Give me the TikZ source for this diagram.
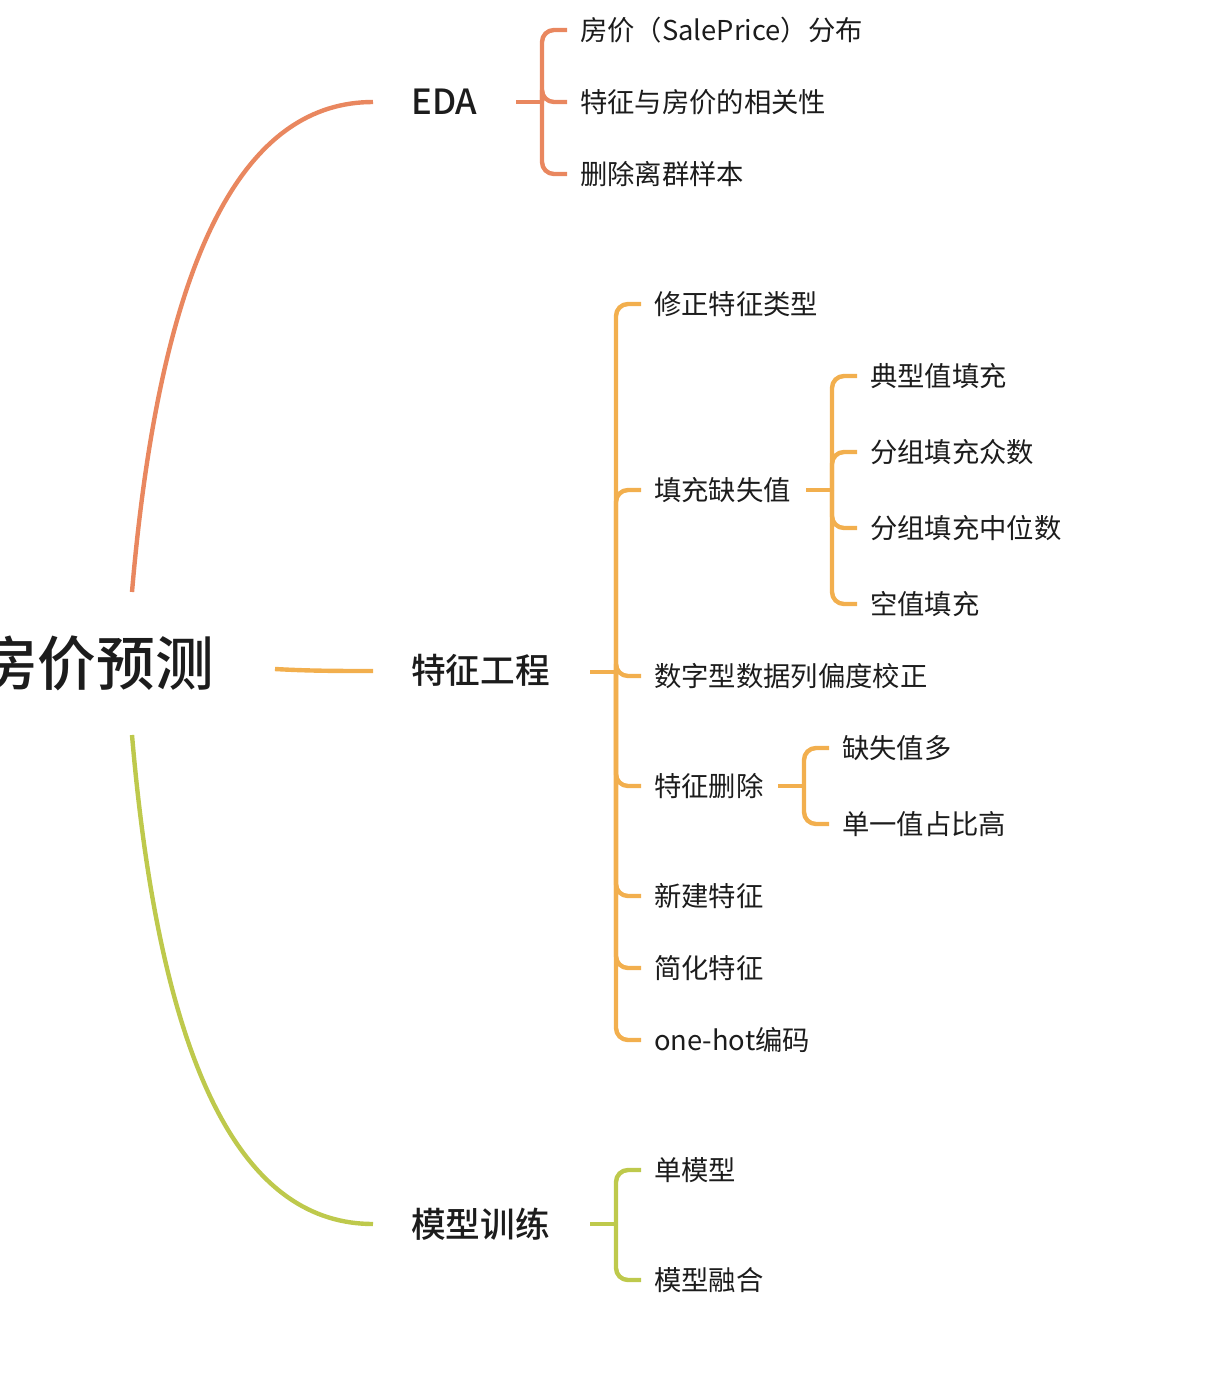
\documentclass[tikz,border=0pt]{standalone}
\usepackage{fontspec}
\setmainfont{Noto Sans CJK SC}
\newfontfamily\medfont{Noto Sans CJK SC}[UprightFont={* Medium}]
\definecolor{cEDA}{HTML}{E9875F}
\definecolor{cFE}{HTML}{F2AF4E}
\definecolor{cMT}{HTML}{BEC94C}
\definecolor{txt}{HTML}{1C1C1C}
\begin{document}
\begin{tikzpicture}[x=0.75pt,y=-0.75pt,line width=3.3pt,
  rootnode/.style={anchor=east,inner sep=0pt,text=txt,font=\fontsize{44pt}{52pt}\medfont},
  lone/.style={anchor=west,inner sep=0pt,text=txt,font=\fontsize{26pt}{30pt}\medfont},
  ltwo/.style={anchor=west,inner sep=0pt,text=txt,font=\fontsize{20.5pt}{24pt}\selectfont},
  br/.style={rounded corners=9pt}]
\path[use as bounding box] (0,0) rectangle (1228,1378);

% root and level 1
\node[rootnode] (root) at (216,663) {房价预测};
\node[lone] (eda) at (409,102) {EDA};
\node[lone] (fe) at (409,670) {特征工程};
\node[lone] (mt) at (409,1224) {模型训练};

\coordinate (rT) at (132,592);
\coordinate (rM) at (275,669);
\coordinate (rB) at (132,735);
\coordinate (edaIn) at (373,102);
\coordinate (feIn) at (373,671);
\coordinate (mtIn) at (373,1224);
\draw[cEDA] (rT) .. controls (162,240) and (250,102) .. (edaIn);
\draw[cFE] (rM) .. controls (310,671) and (340,671) .. (feIn);
\draw[cMT] (rB) .. controls (162,1087) and (250,1224) .. (mtIn);

% EDA children
\node[ltwo] (e1) at (578,30) {房价（SalePrice）分布};
\node[ltwo] (e2) at (578,102) {特征与房价的相关性};
\node[ltwo] (e3) at (578,174) {删除离群样本};
\coordinate (edaOut) at (516,102);
\draw[cEDA] (edaOut) -- (542,102);
\foreach \yc in {30,102,174}
  \draw[cEDA,br] (567,\yc) -- (542,\yc) -- (542,102);

% Feature engineering children
\node[ltwo] (f1) at (652,304) {修正特征类型};
\node[ltwo] (f2) at (652,490) {填充缺失值};
\node[ltwo] (f3) at (652,676) {数字型数据列偏度校正};
\node[ltwo] (f4) at (652,786) {特征删除};
\node[ltwo] (f5) at (652,896) {新建特征};
\node[ltwo] (f6) at (652,968) {简化特征};
\node[ltwo] (f7) at (652,1040) {one-hot编码};
\coordinate (feOut) at (590,672);
\draw[cFE] (feOut) -- (616,672);
\foreach \yc in {304,490,676,786,896,968,1040}
  \draw[cFE,br] (641,\yc) -- (616,\yc) -- (616,672);

% fill missing values children
\node[ltwo] (g1) at (868,376) {典型值填充};
\node[ltwo] (g2) at (868,452) {分组填充众数};
\node[ltwo] (g3) at (868,528) {分组填充中位数};
\node[ltwo] (g4) at (868,604) {空值填充};
\coordinate (f2Out) at (806,490);
\draw[cFE] (f2Out) -- (832,490);
\foreach \yc in {376,452,528,604}
  \draw[cFE,br] (857,\yc) -- (832,\yc) -- (832,490);

% feature deletion children
\node[ltwo] (h1) at (840,748) {缺失值多};
\node[ltwo] (h2) at (840,824) {单一值占比高};
\coordinate (f4Out) at (778,786);
\draw[cFE] (f4Out) -- (804,786);
\foreach \yc in {748,824}
  \draw[cFE,br] (829,\yc) -- (804,\yc) -- (804,786);

% model training children
\node[ltwo] (m1) at (652,1170) {单模型};
\node[ltwo] (m2) at (652,1280) {模型融合};
\coordinate (mtOut) at (590,1224);
\draw[cMT] (mtOut) -- (616,1224);
\foreach \yc in {1170,1280}
  \draw[cMT,br] (641,\yc) -- (616,\yc) -- (616,1224);
\end{tikzpicture}
\end{document}
